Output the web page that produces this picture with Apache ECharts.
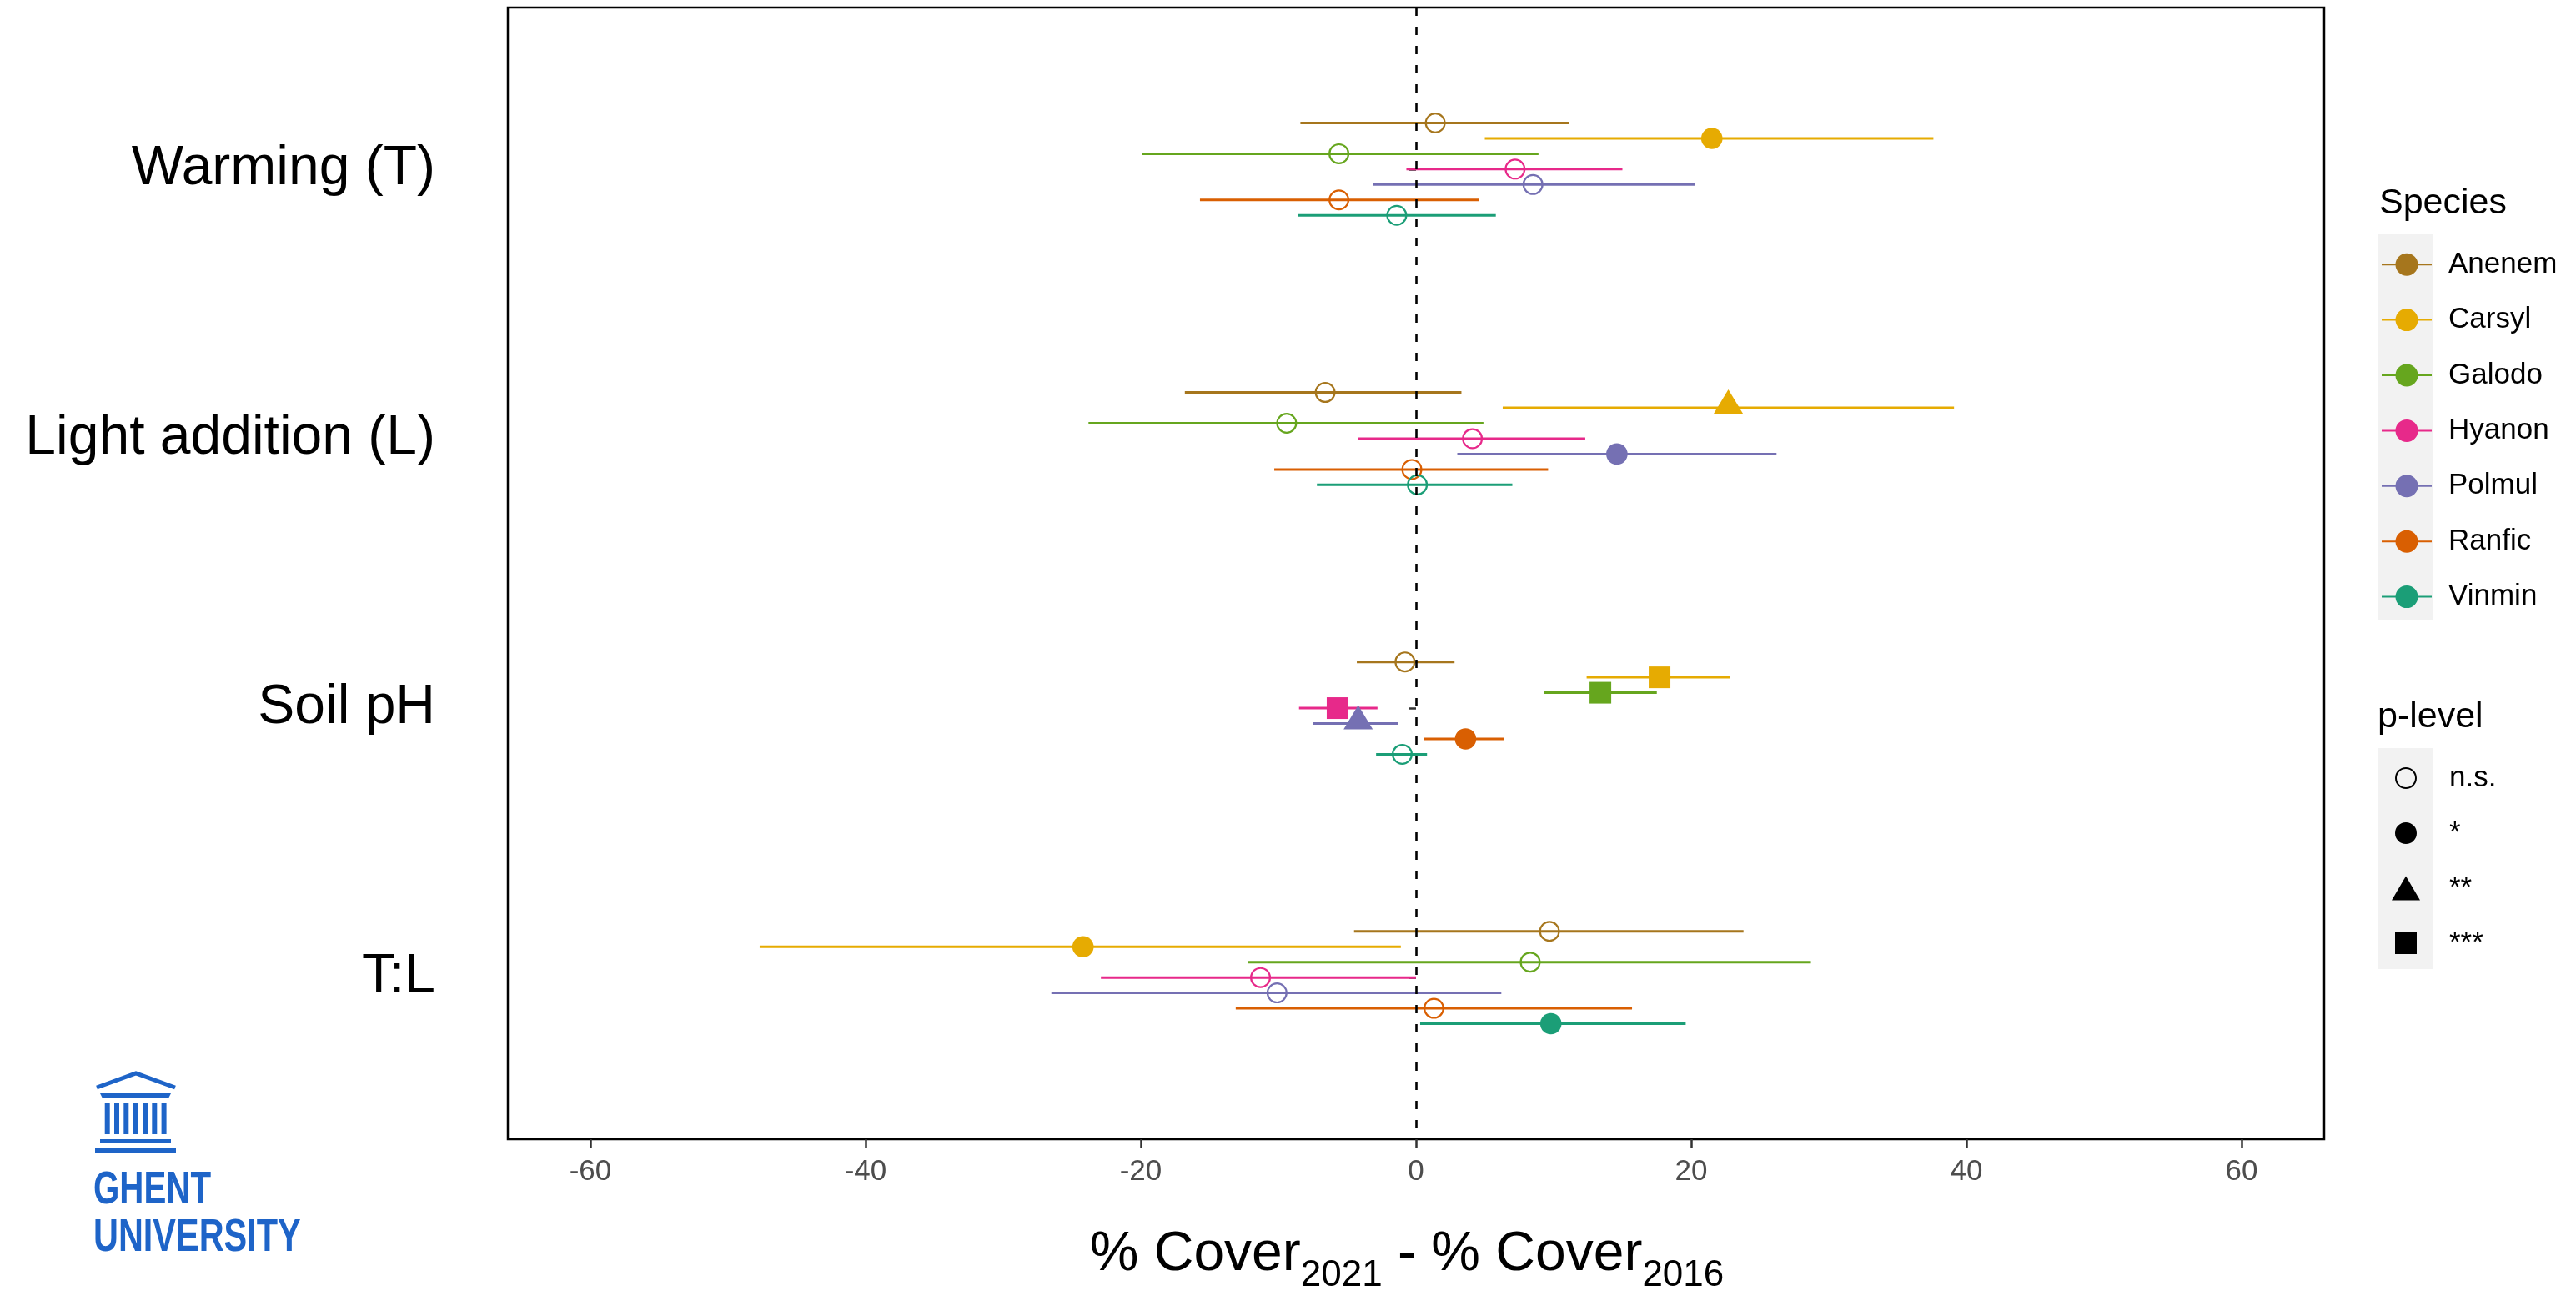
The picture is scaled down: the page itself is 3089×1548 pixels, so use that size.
<!DOCTYPE html>
<html>
<head>
<meta charset="utf-8">
<title>Cover change forest plot</title>
<script src="https://cdn.jsdelivr.net/npm/echarts@6/dist/echarts.min.js"></script>
<style>
  html, body { margin: 0; padding: 0; background: #ffffff; }
  #chart { width: 3089px; height: 1548px; }
</style>
</head>
<body>
<div id="chart"></div>
<script>
// ---------------- data ----------------
const categories = ['Warming (T)', 'Light addition (L)', 'Soil pH', 'T:L'];
const species = ['Anenem', 'Carsyl', 'Galodo', 'Hyanon', 'Polmul', 'Ranfic', 'Vinmin'];
const pLevels = ['n.s.', '*', '**', '***'];
const xTicks = [-60, -40, -20, 0, 20, 40, 60];

// one row per species, one column per treatment (categories order)
const estimates = [
  [1.4, -6.6, -0.8, 9.7],     // Anenem
  [21.5, 22.7, 17.7, -24.2],  // Carsyl
  [-5.6, -9.4, 13.4, 8.3],    // Galodo
  [7.2, 4.1, -5.7, -11.3],    // Hyanon
  [8.5, 14.6, -4.2, -10.1],   // Polmul
  [-5.6, -0.3, 3.6, 1.3],     // Ranfic
  [-1.4, 0.1, -1.0, 9.8]      // Vinmin
];
const lowers = [
  [-8.4, -16.8, -4.3, -4.5],
  [5.0, 6.3, 12.4, -47.7],
  [-19.9, -23.8, 9.3, -12.2],
  [-0.7, -4.2, -8.5, -22.9],
  [-3.1, 3.0, -7.5, -26.5],
  [-15.7, -10.3, 0.55, -13.1],
  [-8.6, -7.2, -2.9, 0.3]
];
const uppers = [
  [11.1, 3.3, 2.8, 23.8],
  [37.6, 39.1, 22.8, -1.1],
  [8.9, 4.9, 17.5, 28.7],
  [15.0, 12.3, -2.8, 0.0],
  [20.3, 26.2, -1.3, 6.2],
  [4.6, 9.6, 6.4, 15.7],
  [5.8, 7.0, 0.8, 19.6]
];
// index into pLevels
const significance = [
  [0, 0, 0, 0],
  [1, 2, 3, 1],
  [0, 0, 3, 0],
  [0, 0, 3, 0],
  [0, 1, 2, 0],
  [0, 0, 1, 0],
  [0, 0, 0, 1]
];

// ---------------- styles ----------------
const speciesColors = ['#A6761D', '#E6AB02', '#66A61E', '#E7298A', '#7570B3', '#D95F02', '#1B9E77'];
const FONT = '"Liberation Sans", Arial, Helvetica, sans-serif';
const dodgeWidth = 0.4;
const step = dodgeWidth / species.length;

function renderItem(params, api) {
  const y = api.value(3);
  const a = api.coord([api.value(0), y]);
  const b = api.coord([api.value(1), y]);
  const p = api.coord([api.value(2), y]);
  const sig = api.value(4);
  const color = api.visual('color');
  let sym;
  if (sig === 0) {
    sym = { type: 'circle', shape: { cx: p[0], cy: p[1], r: 11.4 }, style: { fill: 'none', stroke: color, lineWidth: 2.2 } };
  } else if (sig === 1) {
    sym = { type: 'circle', shape: { cx: p[0], cy: p[1], r: 12.8 }, style: { fill: color } };
  } else if (sig === 2) {
    sym = { type: 'polygon', shape: { points: [[p[0], p[1] - 22], [p[0] + 17.5, p[1] + 7], [p[0] - 17.5, p[1] + 7]] }, style: { fill: color } };
  } else {
    sym = { type: 'rect', shape: { x: p[0] - 13, y: p[1] - 13, width: 26, height: 26 }, style: { fill: color } };
  }
  sym.z2 = 10;
  return {
    type: 'group',
    children: [
      { type: 'line', z2: 0, shape: { x1: a[0], y1: a[1], x2: b[0], y2: b[1] }, style: { stroke: color, lineWidth: 3 } },
      sym
    ]
  };
}

const series = species.map(function (name, si) {
  const data = categories.map(function (c, ci) {
    const yPos = (ci + 1) + (si - (species.length - 1) / 2) * step;
    return [lowers[si][ci], uppers[si][ci], estimates[si][ci], yPos, significance[si][ci]];
  });
  return {
    name: name,
    type: 'custom',
    renderItem: renderItem,
    itemStyle: { color: speciesColors[si] },
    encode: { x: [0, 1, 2], y: 3 },
    data: data,
    z: 2
  };
});

// dummy series for the p-level legend
pLevels.forEach(function (lvl) {
  series.push({ name: lvl, type: 'custom', renderItem: function () { return null; }, itemStyle: { color: '#000' }, data: [] });
});

// zero reference line
series.push({
  type: 'scatter',
  data: [],
  silent: true,
  markLine: {
    silent: true,
    symbol: 'none',
    label: { show: false },
    lineStyle: { color: '#000', type: [10, 13], width: 2.6 },
    data: [{ xAxis: 0 }],
    z: 5,
    animation: false
  }
});

// legend icons
const speciesIcon = 'path://M0,12.5L17,12.5L17,14.5L0,14.5Z M43,12.5L60,12.5L60,14.5L43,14.5Z M16.5,13.5A13.5,13.5 0 1 1 43.5,13.5A13.5,13.5 0 1 1 16.5,13.5Z';
const corners = ' M0,0L0.01,0L0,0.01Z M34,29L33.99,29L34,28.99Z';
const pIcons = [
  'path://M4,14.5A13,13 0 1 1 30,14.5A13,13 0 1 1 4,14.5Z M6,14.5A11,11 0 1 0 28,14.5A11,11 0 1 0 6,14.5Z' + corners,
  'path://M4,14.5A13,13 0 1 1 30,14.5A13,13 0 1 1 4,14.5Z' + corners,
  'path://M17,0L34,29L0,29Z',
  'path://M4,1.5L30,1.5L30,27.5L4,27.5Z' + corners
];

const chart = echarts.init(document.getElementById('chart'), null, { renderer: 'canvas' });

const option = {
  backgroundColor: '#ffffff',
  animation: false,
  textStyle: { fontFamily: FONT },
  title: [
    { text: 'Species', left: 2853, top: 223, padding: 0, textStyle: { fontSize: 43, fontWeight: 'normal', color: '#000', fontFamily: FONT } },
    { text: 'p-level', left: 2851, top: 839, padding: 0, textStyle: { fontSize: 43, fontWeight: 'normal', color: '#000', fontFamily: FONT } }
  ],
  grid: {
    left: 609, top: 9, width: 2178, height: 1357,
    outerBoundsMode: 'none',
    containLabel: false,
    show: true, borderColor: '#000', borderWidth: 2.5, backgroundColor: '#fff'
  },
  xAxis: {
    type: 'value',
    min: -66, max: 66,
    axisLine: { show: false },
    splitLine: { show: false },
    axisTick: { show: true, customValues: xTicks, length: 10, lineStyle: { color: '#333', width: 2.5 } },
    axisLabel: { customValues: xTicks, fontSize: 35, color: '#4D4D4D', margin: 22, fontFamily: FONT },
    name: '{a|% Cover}{b|2021}{s| }{a|- % Cover}{b|2016}',
    nameLocation: 'middle',
    nameGap: 106,
    nameTextStyle: {
      color: '#000', fontFamily: FONT,
      padding: [0, 22, 0, 0],
      rich: {
        a: { fontSize: 66, lineHeight: 66, verticalAlign: 'top', color: '#000', fontFamily: FONT },
        b: { fontSize: 44, lineHeight: 44, verticalAlign: 'bottom', color: '#000', fontFamily: FONT },
        s: { fontSize: 66, lineHeight: 80, verticalAlign: 'top', color: '#000', fontFamily: FONT }
      }
    }
  },
  yAxis: {
    type: 'value',
    min: 0.4, max: 4.6,
    inverse: true,
    axisLine: { show: false },
    splitLine: { show: false },
    axisTick: { show: true, customValues: [1, 2, 3, 4], length: 9, lineStyle: { color: '#333', width: 2.5 } },
    axisLabel: {
      customValues: [1, 2, 3, 4],
      formatter: function (v) { return categories[Math.round(v) - 1] || ''; },
      fontSize: 66, color: '#000', margin: 87, fontFamily: FONT
    }
  },
  legend: [
    {
      orient: 'vertical', left: 2856, top: 284, padding: 0,
      itemWidth: 60, itemHeight: 27, itemGap: 0,
      selectedMode: false,
      textStyle: { fontSize: 35, color: '#000', lineHeight: 66.4, padding: [0, 0, 0, 15], fontFamily: FONT },
      data: species.map(function (n) { return { name: n, icon: speciesIcon }; })
    },
    {
      orient: 'vertical', left: 2868, top: 900, padding: 0,
      itemWidth: 34, itemHeight: 29, itemGap: 0,
      selectedMode: false,
      textStyle: { fontSize: 35, color: '#000', lineHeight: 66, padding: [0, 0, 0, 30], fontFamily: FONT },
      data: pLevels.map(function (n, i) { return { name: n, icon: pIcons[i] }; })
    }
  ],
  graphic: [
    { type: 'rect', z: 0, shape: { x: 2851, y: 281, width: 67, height: 463 }, style: { fill: '#F2F2F2' } },
    { type: 'rect', z: 0, shape: { x: 2851, y: 897, width: 67, height: 265 }, style: { fill: '#F2F2F2' } },
    // Ghent University logo
    {
      type: 'group',
      children: [
        { type: 'polyline', shape: { points: [[116, 1304], [163, 1287], [210, 1304]] }, style: { stroke: '#1E64C8', lineWidth: 5, fill: 'none', lineJoin: 'miter' } },
        { type: 'polygon', shape: { points: [[120, 1311], [205, 1311], [202, 1317], [123, 1317]] }, style: { fill: '#1E64C8' } },
        { type: 'rect', shape: { x: 125.7, y: 1323, width: 6, height: 37 }, style: { fill: '#1E64C8' } },
        { type: 'rect', shape: { x: 137, y: 1323, width: 6, height: 37 }, style: { fill: '#1E64C8' } },
        { type: 'rect', shape: { x: 148.3, y: 1323, width: 6, height: 37 }, style: { fill: '#1E64C8' } },
        { type: 'rect', shape: { x: 159.7, y: 1323, width: 6, height: 37 }, style: { fill: '#1E64C8' } },
        { type: 'rect', shape: { x: 171, y: 1323, width: 6, height: 37 }, style: { fill: '#1E64C8' } },
        { type: 'rect', shape: { x: 182.3, y: 1323, width: 6, height: 37 }, style: { fill: '#1E64C8' } },
        { type: 'rect', shape: { x: 193.6, y: 1323, width: 6, height: 37 }, style: { fill: '#1E64C8' } },
        { type: 'rect', shape: { x: 120, y: 1366, width: 85, height: 5 }, style: { fill: '#1E64C8' } },
        { type: 'rect', shape: { x: 114, y: 1377, width: 97, height: 6 }, style: { fill: '#1E64C8' } },
        { type: 'text', x: 112, y: 1428, scaleX: 0.72, style: { text: 'GHENT', x: 0, y: 0, fontSize: 56, fontWeight: 'bold', fontFamily: FONT, fill: '#1E64C8', verticalAlign: 'middle', align: 'left' } },
        { type: 'text', x: 112, y: 1485, scaleX: 0.74, style: { text: 'UNIVERSITY', x: 0, y: 0, fontSize: 56, fontWeight: 'bold', fontFamily: FONT, fill: '#1E64C8', verticalAlign: 'middle', align: 'left' } }
      ]
    }
  ],
  series: series
};

chart.setOption(option);
</script>
</body>
</html>
